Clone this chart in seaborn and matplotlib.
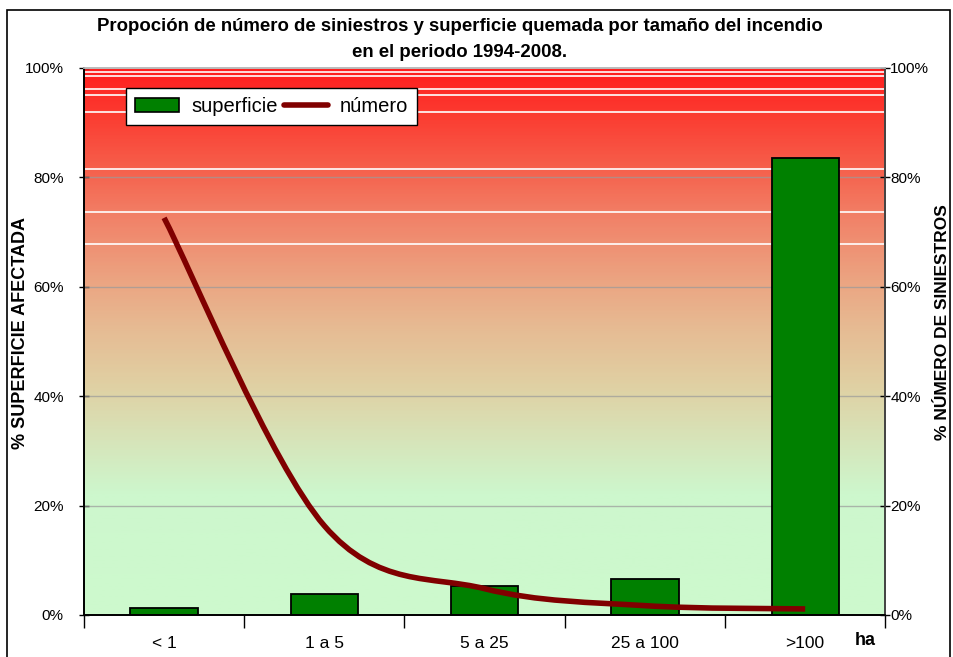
import numpy as np
import pandas as pd
import matplotlib
matplotlib.use('Agg')
import matplotlib.pyplot as plt
import seaborn as sns
from matplotlib.colors import LinearSegmentedColormap
from matplotlib.path import Path
from matplotlib.patches import PathPatch, Patch, Rectangle
from matplotlib.lines import Line2D
from matplotlib.ticker import PercentFormatter

# Data
categorias = ['< 1', '1 a 5', '5 a 25', '25 a 100', '>100']
superficie = [1.3, 3.8, 5.3, 6.6, 83.5]   # % superficie afectada
numero = [72.6, 16.3, 4.8, 1.7, 1.1]      # % numero de siniestros

titulo = 'Propoción de número de siniestros y superficie quemada por tamaño del incendio\nen el periodo 1994-2008.'

sns.set_theme(style='white')
plt.rcParams['font.family'] = ['Liberation Sans', 'DejaVu Sans']
plt.rcParams['text.color'] = 'black'
plt.rcParams['axes.labelcolor'] = 'black'
plt.rcParams['xtick.color'] = 'black'
plt.rcParams['ytick.color'] = 'black'

df = pd.DataFrame({'Tamaño': categorias, 'superficie': superficie, 'numero': numero})

fig = plt.figure(figsize=(9.54, 6.57), dpi=100)
ax = fig.add_axes([0.088, 0.064, 0.840, 0.8325])

# gradient background (green at the bottom, red at the top)
stops = [(0.0, (205/255, 250/255, 205/255)),
         (0.22, (205/255, 247/255, 205/255)),
         (0.32, (215/255, 228/255, 185/255)),
         (0.42, (224/255, 208/255, 163/255)),
         (0.52, (230/255, 188/255, 148/255)),
         (0.62, (236/255, 162/255, 128/255)),
         (0.72, (241/255, 132/255, 106/255)),
         (0.82, (246/255, 95/255, 75/255)),
         (0.92, (252/255, 58/255, 48/255)),
         (1.0, (255/255, 30/255, 30/255))]
cmap = LinearSegmentedColormap.from_list('fondo', stops)
grad = np.linspace(0, 1, 400).reshape(-1, 1)
ax.imshow(grad, cmap=cmap, origin='lower', aspect='auto',
          extent=[-0.5, 4.5, 0, 100], zorder=0)

# white banding seen in the original background
for lvl in [99.2, 98.6, 96.2, 95.1, 92.0, 81.5, 73.7, 67.9]:
    ax.axhline(lvl, color='white', lw=1.2, zorder=0.5)
for lvl in [20, 40, 60, 80]:
    ax.axhline(lvl, color='#9a9a9a', lw=1, alpha=0.7, zorder=0.6)

sns.barplot(data=df, x='Tamaño', y='superficie', color='#008000', saturation=1,
            width=0.42, edgecolor='black', linewidth=1.3, ax=ax, zorder=2)
ax.set_xlim(-0.5, 4.5)
ax.set_ylim(0, 100)

# secondary axis for numero de siniestros, smoothed line (Catmull-Rom -> Bezier)
ax2 = ax.twinx()
ax2.set_ylim(0, 100)
pts = np.column_stack([np.arange(len(numero)), numero]).astype(float)
ext = np.vstack([pts[0], pts, pts[-1]])
verts = [tuple(pts[0])]
codes = [Path.MOVETO]
for i in range(1, len(ext) - 2):
    p0, p1, p2, p3 = ext[i - 1], ext[i], ext[i + 1], ext[i + 2]
    c1 = p1 + (p2 - p0) / 6
    c2 = p2 - (p3 - p1) / 6
    verts += [tuple(c1), tuple(c2), tuple(p2)]
    codes += [Path.CURVE4] * 3
ax2.add_patch(PathPatch(Path(verts, codes), facecolor='none', edgecolor='#800000',
                        lw=4, capstyle='butt', zorder=3))

# axes styling
pct = PercentFormatter(100, decimals=0)
for a in (ax, ax2):
    a.set_yticks([0, 20, 40, 60, 80, 100])
    a.yaxis.set_major_formatter(pct)
    a.spines['top'].set_color('#bbbbbb')
    a.spines['left'].set_color('black')
    a.spines['right'].set_color('#444444')
    a.spines['bottom'].set_color('black')
ax.tick_params(axis='y', which='major', direction='inout', length=7, width=1,
               color='black', labelcolor='black', labelsize=11, pad=11, left=True)
ax2.tick_params(axis='y', which='major', direction='inout', length=7, width=1,
                color='black', labelcolor='black', labelsize=11, pad=0, right=True)
ax.set_xticks(np.arange(-0.5, 5, 1), minor=True)
ax.tick_params(axis='x', which='minor', direction='out', length=9, width=1,
               color='black', bottom=True)
ax.tick_params(axis='x', which='major', length=0, labelsize=12.5, pad=15,
               labelcolor='black')
ax.set_xlabel('')
ax.set_ylabel('% SUPERFICIE AFECTADA', fontsize=13, fontweight='bold', color='black')
ax.yaxis.set_label_coords(-0.069, 0.515)
ax2.set_ylabel('% NÚMERO DE SINIESTROS', fontsize=12.5, fontweight='bold', color='black')
ax2.yaxis.set_label_coords(1.062, 0.536)
ax.text(4.375, -0.046, 'ha', transform=ax.get_xaxis_transform(), color='black',
        fontsize=13, fontweight='bold', va='center', ha='center')

handles = [Patch(facecolor='#008000', edgecolor='black', linewidth=1.2, label='superficie'),
           Line2D([0], [0], color='#800000', lw=4, label='número')]
leg = ax2.legend(handles=handles, loc='upper left', bbox_to_anchor=(0.052, 0.963),
                 ncol=2, fontsize=14.5, frameon=True, fancybox=False, borderaxespad=0,
                 handlelength=2.2, handletextpad=0.6, columnspacing=0.3,
                 borderpad=0.45, labelcolor='black')
leg.get_frame().set_edgecolor('black')
leg.get_frame().set_linewidth(1)
leg.get_frame().set_alpha(1)

fig.text(0.482, 0.94, titulo, ha='center', va='center', fontsize=13.4,
         fontweight='bold', linespacing=1.65, color='black')

# outer border of the chart area
fig.patches.append(Rectangle((0.007, -0.05), 0.989, 1.035, transform=fig.transFigure,
                             fill=False, edgecolor='black', lw=1.2))

fig.savefig('out.png', dpi=100)
